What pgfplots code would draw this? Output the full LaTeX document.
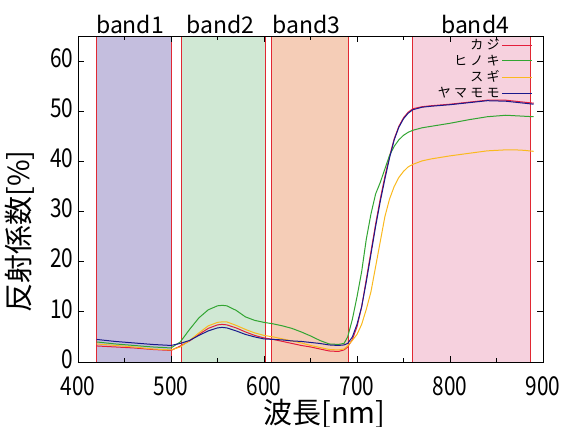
\documentclass[border=0pt]{standalone}
\usepackage{fontspec}
\setmainfont{Noto Sans CJK JP}
\newfontfamily\tickfont[FakeStretch=0.8]{Noto Sans CJK JP}
\newfontfamily\legfont[LetterSpace=25]{Noto Sans CJK JP}
\usepackage{pgfplots}
\pgfplotsset{compat=1.18}
\usepackage{pgfplotstable}
\definecolor{bandA}{RGB}{196,190,222}
\definecolor{bandB}{RGB}{208,232,212}
\definecolor{bandC}{RGB}{245,205,183}
\definecolor{bandD}{RGB}{246,209,222}
\definecolor{edgered}{RGB}{225,40,50}
\definecolor{ckaji}{RGB}{228,30,60}
\definecolor{chinoki}{RGB}{50,165,50}
\definecolor{csugi}{RGB}{250,185,30}
\definecolor{cyama}{RGB}{25,25,140}

\pgfplotstableread{
lam kaji hinoki sugi yamamomo
420 3.2 4.0 3.6 4.5
440 3.0 3.6 3.3 4.1
460 2.8 3.3 3.0 3.8
480 2.5 3.0 2.6 3.5
500 2.3 2.8 2.4 3.3
510 3.2 4.0 3.0 3.7
520 4.2 6.5 4.3 4.3
530 5.5 8.8 5.8 5.3
540 6.7 10.4 7.2 6.2
550 7.4 11.2 7.9 6.8
555 7.5 11.3 8.0 6.9
560 7.4 11.2 8.0 6.8
570 6.8 10.3 7.3 6.2
580 6.0 9.0 6.5 5.5
590 5.3 8.3 5.8 5.0
600 4.8 7.9 5.3 4.6
610 4.5 7.6 5.0 4.5
620 4.1 7.2 4.6 4.4
630 3.7 6.7 4.2 4.2
640 3.3 6.0 3.8 4.1
650 3.0 5.2 3.3 3.9
660 2.6 4.3 2.9 3.7
670 2.2 3.6 2.5 3.4
680 2.1 3.5 2.4 3.3
686 2.4 3.7 2.6 3.4
690 3.0 5.0 3.2 3.7
695 4.5 8.5 4.3 5.0
700 7.0 13.0 5.5 7.5
705 11.0 18.0 7.5 11.0
710 16.5 24.5 10.5 16.0
715 22.0 29.5 14.0 21.5
720 27.5 33.5 19.0 27.0
725 32.5 35.8 24.0 32.0
730 37.0 38.5 29.0 36.5
735 41.0 41.2 32.5 40.7
740 44.5 43.0 35.0 44.3
745 47.0 44.3 36.8 46.8
750 48.7 45.2 38.0 48.5
755 49.8 45.8 38.9 49.6
760 50.5 46.2 39.4 50.3
770 50.9 46.7 40.1 50.8
780 51.1 47.0 40.5 51.0
800 51.4 47.6 41.1 51.3
820 51.8 48.3 41.6 51.7
840 52.2 48.9 42.1 52.1
860 52.2 49.2 42.3 52.0
870 52.0 49.1 42.3 51.8
880 51.8 49.0 42.2 51.6
890 51.6 48.9 42.0 51.4
}\spectra

\begin{document}
\begin{tikzpicture}
\useasboundingbox (-78pt,-65pt) rectangle (486pt,362pt);
\begin{axis}[
  scale only axis, width=465pt, height=326pt,
  xmin=400, xmax=900, ymin=0, ymax=65,
  xtick={400,500,...,900}, minor x tick num=1,
  ytick={0,10,...,60},
  clip=false, axis on top,
  axis line style={black, line width=0.8pt},
  major tick length=6pt, minor tick length=4pt,
  every tick/.style={black, line width=0.8pt},
  /pgf/number format/assume math mode=true,
  ticklabel style={font=\tickfont\fontsize{26}{26}\selectfont},
  yticklabel style={xshift=-1pt, yshift=3pt},
  xticklabel style={yshift=-11pt},
  xlabel={波長[nm]},
  ylabel={反射係数[\%]},
  xlabel style={font=\fontsize{29}{29}\selectfont, at={(axis description cs:0.53,0)}, anchor=north, yshift=-34pt},
  ylabel style={font=\fontsize{29}{29}\selectfont, at={(axis description cs:0,0.4)}, anchor=south, yshift=40pt},
  legend cell align=right,
  legend plot pos=right,
  legend image code/.code={\draw[#1, line width=1pt] (0pt,0pt) -- (30pt,0pt);},
  legend style={draw=none, fill=none, at={(0.978,0.997)}, anchor=north east,
    font=\legfont\fontsize{13}{14}\selectfont, row sep=0pt, inner sep=0pt},
]
\draw[edgered, line width=0.8pt, fill=bandA] (axis cs:420,0) rectangle (axis cs:500,65);
\draw[edgered, line width=0.8pt, fill=bandB] (axis cs:511,0) rectangle (axis cs:601,65);
\draw[edgered, line width=0.8pt, fill=bandC] (axis cs:608,0) rectangle (axis cs:691,65);
\draw[edgered, line width=0.8pt, fill=bandD] (axis cs:760,0) rectangle (axis cs:886,65);
\node[anchor=south, font=\fontsize{23}{23}\selectfont, inner sep=2pt] at (axis cs:456,65) {band1};
\node[anchor=south, font=\fontsize{23}{23}\selectfont, inner sep=2pt] at (axis cs:553,65) {band2};
\node[anchor=south, font=\fontsize{23}{23}\selectfont, inner sep=2pt] at (axis cs:646,65) {band3};
\node[anchor=south, font=\fontsize{23}{23}\selectfont, inner sep=2pt] at (axis cs:827,65) {band4};
\addplot[ckaji, line width=1pt] table[x=lam, y=kaji] {\spectra};
\addplot[chinoki, line width=1pt] table[x=lam, y=hinoki] {\spectra};
\addplot[csugi, line width=1pt] table[x=lam, y=sugi] {\spectra};
\addplot[cyama, line width=1pt] table[x=lam, y=yamamomo] {\spectra};
\legend{カジ, ヒノキ, スギ, ヤマモモ}
\end{axis}
\end{tikzpicture}
\end{document}
